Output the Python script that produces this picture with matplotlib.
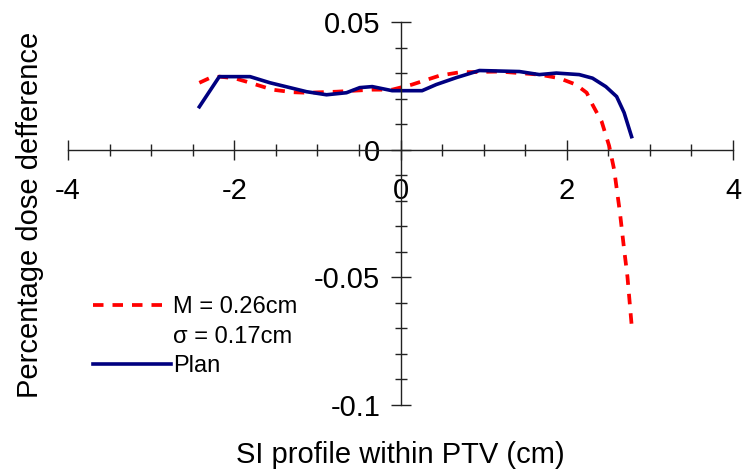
import matplotlib
matplotlib.use("Agg")
import matplotlib.pyplot as plt
from matplotlib.lines import Line2D
from matplotlib.ticker import MultipleLocator, FuncFormatter

plt.rcParams['font.family'] = ['Liberation Sans', 'DejaVu Sans']

# Dose difference profile along SI direction
x_shift = [-2.42, -2.30, -2.18, -2.00, -1.85, -1.54, -1.30, -1.13, -0.77, -0.34,
           -0.10, 0.14, 0.47, 0.71, 1.19, 1.67, 1.91, 2.11, 2.24, 2.31,
           2.42, 2.51, 2.57, 2.64, 2.69, 2.73, 2.78]
y_shift = [0.0262, 0.0280, 0.0286, 0.0280, 0.0266, 0.0235, 0.0225, 0.0223, 0.0227, 0.0235,
           0.0235, 0.0255, 0.0290, 0.0303, 0.0306, 0.0294, 0.0280, 0.0255, 0.0223, 0.0176,
           0.0110, 0.0015, -0.0078, -0.0247, -0.0390, -0.0497, -0.0685]

x_plan = [-2.42, -2.30, -2.18, -1.81, -1.57, -1.13, -0.89, -0.65, -0.49, -0.34,
          -0.10, 0.26, 0.43, 0.67, 0.95, 1.43, 1.67, 1.875, 2.15, 2.31,
          2.47, 2.60, 2.69, 2.78]
y_plan = [0.0168, 0.0227, 0.0286, 0.0286, 0.0262, 0.0227, 0.0215, 0.0223, 0.0243, 0.0247,
          0.0231, 0.0231, 0.0255, 0.0282, 0.0310, 0.0306, 0.0294, 0.0300, 0.0294, 0.0280,
          0.0247, 0.0208, 0.0145, 0.0051]

shift_label = "M = 0.26cm"
shift_label2 = "σ = 0.17cm"
plan_label = "Plan"

fig = plt.figure(figsize=(7.43, 4.76), dpi=100)
W, H = 743, 476
ax = fig.add_axes([68 / W, 1 - 405 / H, (733 - 68) / W, (405 - 22) / H])

ax.plot(x_shift, y_shift, color='#ff0000', lw=2.7, dashes=(2.8, 2.4), solid_capstyle='butt')
ax.plot(x_plan, y_plan, color='#000080', lw=2.6)

ax.set_xlim(-4, 4)
ax.set_ylim(-0.1, 0.05)

for s in ['top', 'right']:
    ax.spines[s].set_visible(False)
ax.spines['left'].set_position(('data', 0))
ax.spines['bottom'].set_position(('data', 0))
for s in ['left', 'bottom']:
    ax.spines[s].set_color('#222222')
    ax.spines[s].set_linewidth(1.0)

ax.xaxis.set_major_locator(MultipleLocator(2))
ax.xaxis.set_minor_locator(MultipleLocator(0.5))
ax.yaxis.set_major_locator(MultipleLocator(0.05))
ax.yaxis.set_minor_locator(MultipleLocator(0.01))
ax.xaxis.set_major_formatter(FuncFormatter(lambda v, p: f"{v:g}"))
ax.yaxis.set_major_formatter(FuncFormatter(lambda v, p: f"{v:g}"))

ax.tick_params(axis='x', which='major', direction='inout', length=15, width=1.0,
               color='#222222', labelsize=21, pad=12)
ax.tick_params(axis='x', which='minor', direction='inout', length=9, width=1.0,
               color='#222222')
ax.tick_params(axis='y', which='major', direction='inout', length=15, width=1.0,
               color='#222222', labelsize=21, pad=7)
ax.tick_params(axis='y', which='minor', direction='inout', length=9, width=1.0,
               color='#222222')

fig.text(30 / W, 1 - 215 / H, "Percentage dose defference", rotation=90,
         ha='center', va='center', fontsize=21)
fig.text(400 / W, 1 - 455 / H, "SI profile within PTV (cm)",
         ha='center', va='center', fontsize=21)

handles = [Line2D([], [], color='#ff0000', lw=2.7, dashes=(2.8, 2.4)),
           Line2D([], [], color='none'),
           Line2D([], [], color='#000080', lw=2.6)]
ax.legend(handles, [shift_label, shift_label2, plan_label],
          loc='upper left', bbox_to_anchor=(25 / 665, 1 - (296 - 22) / 383),
          frameon=False, fontsize=17, handlelength=3.3, handletextpad=0.1,
          labelspacing=0.32, borderaxespad=0, borderpad=0)

fig.savefig("out.png", dpi=100)
